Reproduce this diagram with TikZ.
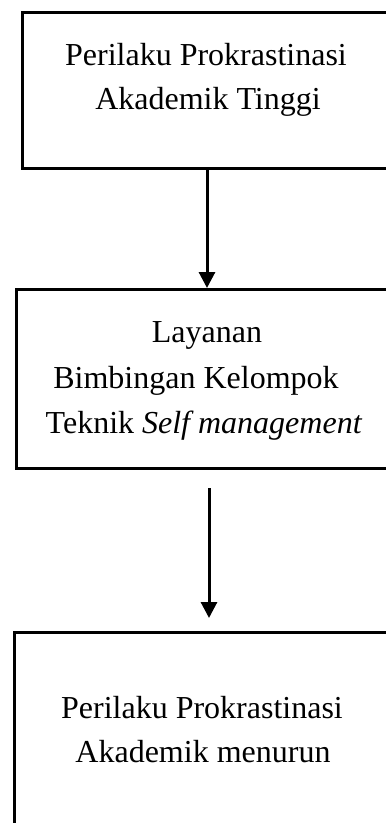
\documentclass[tikz,border=0pt]{standalone}
\usepackage{fontspec}
\setmainfont{Liberation Serif}
\usetikzlibrary{arrows.meta}
\begin{document}
\begin{tikzpicture}[x=1pt,y=1pt,
  box/.style={draw=black, line width=3pt, rectangle, inner sep=0pt, anchor=north west},
  txt/.style={inner sep=0pt, anchor=base, font=\fontsize{32}{44}\selectfont},
  conn/.style={line width=3pt, -{Triangle[width=16pt,length=16pt]}}]
\useasboundingbox (0,0) rectangle (386,-823);
\clip (0,0) rectangle (386,-823);
% boxes
\node[box, minimum width=400pt, minimum height=156pt] (b1) at (21,-11) {};
\node[box, minimum width=400pt, minimum height=179pt] (b2) at (15,-288) {};
\node[box, minimum width=400pt, minimum height=200pt] (b3) at (13,-631) {};
% texts
\node[txt] (t11) at (206,-65) {Perilaku Prokrastinasi};
\node[txt] (t12) at (208,-109) {Akademik Tinggi};
\node[txt] (t21) at (207,-342) {Layanan};
\node[txt] (t22) at (196,-388) {Bimbingan Kelompok};
\node[txt] (t23) at (204,-433) {Teknik \textit{Self management}};
\node[txt] (t31) at (202,-718) {Perilaku Prokrastinasi};
\node[txt] (t32) at (203,-762) {Akademik menurun};
% connectors
\coordinate (x1) at (207,0);
\coordinate (x2) at (209,0);
\draw[conn] (b1.south -| x1) -- (b2.north -| x1);
\draw[conn] ([yshift=-18pt]b2.south -| x2) -- ([yshift=13pt]b3.north -| x2);
\end{tikzpicture}
\end{document}
